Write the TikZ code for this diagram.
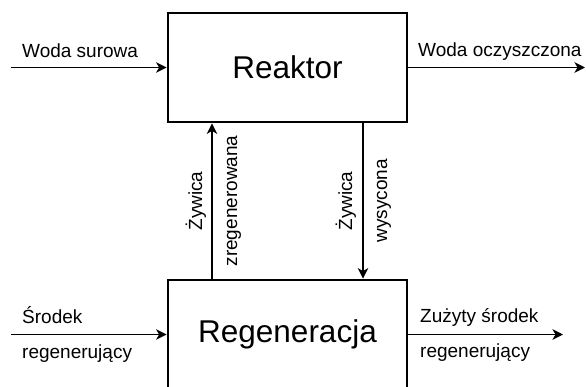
\documentclass[tikz,border=0pt]{standalone}
\usepackage{fontspec}
\setmainfont{Liberation Sans}
\usetikzlibrary{arrows.meta}
\tikzset{
  box/.style={draw, line width=2.8pt, minimum width=239pt, minimum height=109pt, inner sep=0pt,
    font=\fontsize{31.5}{36}\selectfont},
  arr/.style={line width=1.8pt, -{Stealth[length=10.5pt,width=10.5pt,inset=3pt]}},
  lbl/.style={inner sep=0pt, font=\fontsize{19}{22}\selectfont},
}
\begin{document}
\begin{tikzpicture}[x=1pt,y=-1pt]
\useasboundingbox (0,0) rectangle (586,386);
\clip (0,0) rectangle (586,386);
\node[box] (reak) at (287.5,67.5) {Reaktor};
\node[box] (reg) at (287.5,334.5) {Regeneracja};
\coordinate (wsin) at (11,67.5);
\coordinate (woout) at (585,67.5);
\coordinate (srin) at (11,334.5);
\coordinate (zsout) at (563,334.5);
\coordinate (cl) at (212,0);
\coordinate (cr) at (363,0);
\draw[arr] (wsin) -- (reak.west);
\draw[arr] (reak.east) -- (woout);
\draw[arr] (srin) -- (reg.west);
\draw[arr] (reg.east) -- (zsout);
\draw[arr] (reg.north -| cl) -- (reak.south -| cl);
\draw[arr] (reak.south -| cr) -- (reg.north -| cr);
\node[lbl, anchor=base west] (t1) at (22,57) {Woda surowa};
\node[lbl, anchor=base west] (t2) at (418,56) {Woda oczyszczona};
\node[lbl, anchor=base west] (t3) at (22,323) {Środek};
\node[lbl, anchor=base west] (t4) at (22,358) {regenerujący};
\node[lbl, anchor=base west] (t5) at (420,322) {Zużyty środek};
\node[lbl, anchor=base west] (t6) at (420,357) {regenerujący};
\node[lbl, anchor=base, rotate=90] (v1) at (202,201) {Żywica};
\node[lbl, anchor=base, rotate=90] (v2) at (237,201) {zregenerowana};
\node[lbl, anchor=base, rotate=90] (v3) at (352,201) {Żywica};
\node[lbl, anchor=base, rotate=90] (v4) at (387,201) {wysycona};
\end{tikzpicture}
\end{document}
